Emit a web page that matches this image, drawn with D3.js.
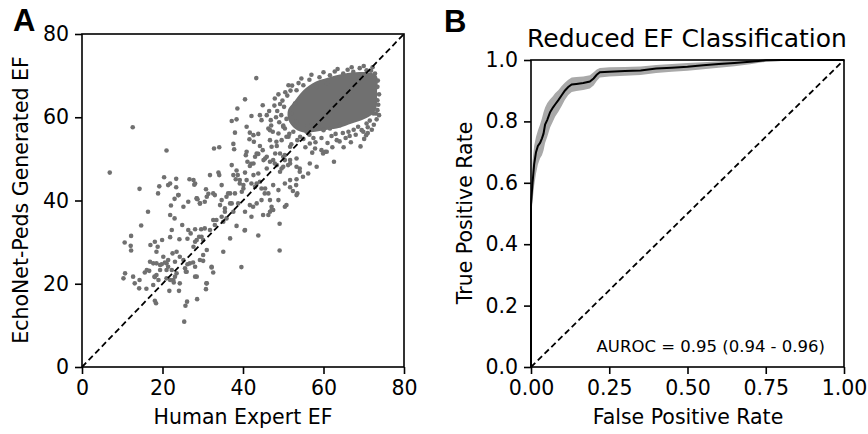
<!DOCTYPE html>
<html>
<head>
<meta charset="utf-8">
<script src="https://cdn.jsdelivr.net/npm/d3@7"></script>
<style>
  body { margin: 0; background: #fff; }
  .tick text { font-family: "DejaVu Sans", sans-serif; font-size: 20.5px; fill: #000; }
  .tick line { stroke: #000; stroke-width: 1.6; }
</style>
</head>
<body>
<div id="fig"></div>
<script>
// panel A: human expert EF vs model EF
var scatterPts = [
  [6.9,46.7],[12.6,57.6],[21.0,52.0],[43.3,69.4],[14.3,42.8],[16.4,37.3],[14.7,34.0],[10.6,29.9],[12.2,31.5],[12.2,28.0],
  [12.1,29.1],[10.3,21.3],[10.7,22.5],[12.7,21.7],[13.1,20.1],[14.3,20.9],[14.2,18.9],[16.0,18.8],[15.6,22.7],[16.7,23.1],
  [18.1,15.9],[18.4,15.3],[25.4,10.9],[25.7,14.7],[26.1,15.7],[28.6,16.3],[30.9,20.1],[30.8,18.7],[39.6,24.0],[49.1,28.0],
  [43.8,31.6],[49.1,34.4],[40.4,32.8],[50.4,38.5],[47.5,37.7],[53.3,41.3],[52.4,42.3],[62.6,49.3],[70.1,54.8],[70.6,55.7],
  [73.0,60.9],[20.4,45.6],[23.4,45.2],[19.2,43.4],[21.4,43.7],[23.4,43.2],[26.7,45.1],[27.9,43.8],[24.0,41.3],[23.0,40.4],
  [22.1,38.8],[28.5,40.5],[29.3,39.3],[30.8,42.7],[31.4,41.6],[23.0,35.7],[24.9,34.1],[26.4,32.9],[22.3,32.9],[27.0,32.1],
  [28.1,33.1],[29.6,33.1],[29.1,31.3],[30.1,30.5],[28.1,30.1],[26.2,30.8],[24.2,30.7],[21.9,31.2],[19.9,30.5],[18.1,30.1],
  [17.0,29.3],[18.8,28.9],[18.5,27.7],[20.2,26.5],[21.4,25.7],[22.5,27.3],[23.5,27.7],[24.3,26.5],[25.2,25.7],[23.1,25.3],
  [21.0,24.9],[19.4,24.5],[17.7,24.9],[16.9,25.3],[16.1,23.3],[18.1,21.6],[19.0,20.9],[21.0,23.3],[22.3,23.3],[23.5,22.5],
  [25.6,23.7],[26.0,22.9],[26.8,24.9],[28.1,24.1],[29.3,25.7],[31.0,28.1],[30.1,26.9],[28.1,21.7],[24.3,20.1],[22.7,20.9],
  [17.7,19.7],[18.0,21.7],[18.5,22.1],[19.4,23.3],[19.8,24.7],[18.5,24.9],[20.6,25.1],[21.4,24.1],[21.0,21.3],[21.9,20.9],
  [23.1,21.7],[22.8,20.3],[21.7,18.3],[24.1,18.3],[25.8,22.9],[26.2,24.7],[27.6,25.1],[28.5,21.7],[31.0,20.1],[32.6,22.7],
  [32.2,23.9],[37.2,48.5],[33.9,46.7],[31.8,46.1],[40.7,50.9],[41.1,49.3],[42.0,48.8],[43.0,50.5],[43.8,51.2],[45.5,50.1],
  [46.7,49.3],[48.0,51.3],[48.4,48.5],[50.4,50.9],[51.7,49.7],[53.3,50.1],[54.1,47.7],[51.2,48.5],[49.6,47.7],[49.2,46.9],
  [45.9,47.7],[43.8,46.5],[42.6,46.1],[38.4,47.2],[38.7,46.1],[38.2,45.1],[39.2,44.1],[40.1,43.7],[40.9,44.9],[42.1,44.1],
  [43.0,43.3],[44.2,44.5],[45.5,42.9],[46.3,41.7],[47.5,43.7],[48.8,42.5],[50.4,44.1],[51.7,44.9],[53.3,45.1],[53.2,43.7],
  [51.7,43.2],[53.5,41.7],[50.8,38.9],[48.8,40.1],[47.1,38.5],[46.7,37.3],[44.6,40.1],[43.4,39.3],[41.7,38.9],[42.1,36.1],
  [39.7,42.1],[38.0,41.7],[36.8,41.7],[35.9,40.9],[34.7,40.1],[34.3,38.9],[35.5,38.1],[37.2,39.3],[37.6,37.3],[35.9,35.7],
  [35.1,34.9],[33.4,35.3],[33.0,34.1],[31.8,32.9],[30.5,33.3],[29.7,31.3],[28.5,30.5],[27.7,28.9],[30.5,39.7],[28.5,40.5],
  [32.6,41.7],[28.1,44.1],[27.7,44.9],[38.4,33.9],[40.5,32.9],[36.8,30.9],[35.1,27.7],[30.1,25.5],[32.2,24.1],[46.3,36.5],
  [21.9,44.1],[34.1,46.1],[33.0,41.3],[34.7,43.7],[36.3,41.7],[37.6,46.1],[39.2,44.9],[40.1,42.9],[40.5,46.7],[43.4,44.1],
  [44.6,42.9],[45.4,41.7],[46.7,40.1],[47.1,37.7],[45.0,36.5],[42.5,38.5],[40.5,37.3],[38.8,39.3],[36.8,39.3],[35.5,37.3],
  [34.7,36.1],[32.6,35.3],[31.0,40.9],[29.3,39.3],[26.4,39.7],[25.2,38.5],[23.9,41.3],[21.9,36.5],[18.9,41.7],[28.7,40.3],
  [51.3,67.7],[40.5,64.3],[44.9,62.9],[47.9,64.5],[38.6,62.1],[37.2,59.1],[38.4,59.5],[42.1,60.3],[44.2,60.5],[44.6,59.3],
  [45.9,60.5],[46.9,59.3],[32.8,52.5],[34.1,52.8],[37.6,53.6],[37.8,52.3],[38.0,56.3],[40.9,57.7],[41.7,56.3],[42.6,55.7],
  [43.8,56.0],[41.6,54.7],[42.7,54.1],[44.2,53.1],[40.9,51.7],[43.4,51.3],[46.3,57.3],[47.4,56.5],[46.7,54.5],[48.4,53.1],
  [45.9,50.5],[45.1,49.7],[42.6,48.9],[41.7,48.3],[49.2,51.3],[50.4,49.7],[47.9,48.9],[50.0,48.1],[51.7,48.9],[49.6,54.5],
  [51.3,55.3],[50.4,57.3],[44.9,52.1],[47.1,52.9],[48.3,54.1],[48.8,56.1],[46.7,56.9],[50.0,57.7],[50.8,55.3],[51.7,52.9],
  [50.0,50.5],[47.5,49.7],[53.3,48.1],[54.1,46.9],[54.9,45.7],[56.2,46.5],[56.6,48.9],[58.3,48.1],[59.9,51.3],[60.8,51.7],
  [69.9,56.5],[53.3,66.5],[55.0,67.7],[52.9,63.3],[52.1,60.9],[53.3,58.9],[52.5,56.5],[54.2,55.3],[55.8,56.5],[56.6,53.7],
  [57.9,52.5],[59.5,52.1],[60.4,51.7],[63.3,54.5],[66.2,56.5],[68.6,57.7],[69.5,56.9],[70.7,58.5],[72.4,60.9],[60.0,56.9],
  [61.6,57.3],[58.7,57.7],[64.1,58.1],[60.8,68.1],[58.3,67.3],[64.9,70.5],[70.7,71.3],[61.6,70.1],[67.4,70.9],[72.8,70.5],
  [73.4,67.3],[73.4,64.1],[73.4,61.7],[49.5,60.5],[50.2,62.5],[49.8,64.0],[51.0,65.2],[52.2,67.6],[56.5,69.0],[59.0,69.6],
  [62.8,71.0],[66.0,71.4],[69.0,71.8],[71.8,71.2],[49.0,58.8],[50.8,59.6],[55.0,54.8],[57.5,55.0],[62.0,55.5],[64.8,56.2],
  [67.5,57.0],[71.5,59.2],[73.6,63.0],[73.5,68.8],[65.5,55.0],[68.0,55.8],[71.0,57.6],[72.5,58.2],[58.0,54.0],[61.0,53.8],
  [48.5,61.5],[49.2,63.2],[50.5,66.0],[53.8,68.2],[57.0,70.2],[60.0,70.8],[63.5,71.6],[67.0,72.0],[70.0,72.3],[72.2,72.0],
  [73.8,65.5],[73.8,60.5],[72.0,57.0],[66.5,55.5],[63.0,56.0],[59.5,55.0],[56.5,55.8],[53.5,54.5],[51.5,56.0],[50.0,58.0],
  [48.2,60.0],[47.8,62.8],[48.8,65.5],[46.5,61.5],[47.0,58.0],[52.0,53.5],[55.5,52.8],[64.0,54.2],[66.8,54.0],[69.2,53.0],
  [54.5,69.3],[51.8,66.4],[56.0,58.0],[71.0,56.2],[73.2,59.5],[62.2,52.8],[57.2,51.5],[65.0,52.8]
];

// the dense part of the cloud, where the dots merge into one blot
var clusterCore = [
  [52.5,63.5],[55,66.5],[58,68.5],[61,69.5],[64,70.3],[68,70.8],[71,70.8],[73.2,70],[73.3,66],[73.2,62.5],
  [72.5,61],[70,59.5],[67,58.5],[64,57.5],[61,57],[58,56.5],[55.5,56.3],[53,57.2],[51.3,59.3],[51.2,61.8]
];
var efTicks = [0, 20, 40, 60, 80];

// panel B: ROC curve with its confidence band
var fpr     = [0, 0, 0.005, 0.01, 0.016, 0.022, 0.029, 0.035, 0.04, 0.045, 0.052, 0.061, 0.07, 0.077, 0.088, 0.098, 0.108, 0.119, 0.13, 0.145, 0.167, 0.188, 0.2, 0.21, 0.22, 0.25, 0.3, 0.35, 0.4, 0.45, 0.5, 0.55, 0.6, 0.65, 0.7, 0.75, 0.8, 0.9, 1.0];
var tpr     = [0, 0.53, 0.60, 0.66, 0.70, 0.72, 0.73, 0.745, 0.76, 0.79, 0.805, 0.83, 0.845, 0.855, 0.87, 0.885, 0.90, 0.912, 0.92, 0.922, 0.925, 0.93, 0.94, 0.952, 0.96, 0.962, 0.964, 0.966, 0.972, 0.975, 0.978, 0.983, 0.987, 0.99, 0.994, 0.999, 1.0, 1.0, 1.0];
var tprHigh = [0, 0.57, 0.67, 0.72, 0.75, 0.77, 0.79, 0.81, 0.83, 0.845, 0.86, 0.872, 0.882, 0.892, 0.902, 0.915, 0.926, 0.936, 0.943, 0.945, 0.946, 0.95, 0.96, 0.969, 0.974, 0.976, 0.977, 0.979, 0.984, 0.987, 0.99, 0.993, 0.996, 0.998, 1.0, 1.0, 1.0, 1.0, 1.0];
var tprLow  = [0, 0.49, 0.54, 0.59, 0.63, 0.66, 0.68, 0.69, 0.705, 0.73, 0.75, 0.78, 0.80, 0.815, 0.832, 0.85, 0.87, 0.886, 0.896, 0.899, 0.902, 0.907, 0.917, 0.932, 0.943, 0.946, 0.949, 0.951, 0.958, 0.962, 0.965, 0.97, 0.975, 0.98, 0.986, 0.994, 0.997, 1.0, 1.0];
var fprTicks = [0, 0.25, 0.5, 0.75, 1.0];
var tprTicks = [0, 0.2, 0.4, 0.6, 0.8, 1.0];

var dotColor = "#707070";
var font = "DejaVu Sans, sans-serif";

var svg = d3.select("#fig")
  .append("svg")
  .attr("width", 868)
  .attr("height", 434);

// ---------- panel A ----------
var xA = d3.scaleLinear().domain([0, 80]).range([82, 404]);
var yA = d3.scaleLinear().domain([0, 80]).range([367, 34]);

var gA = svg.append("g");

gA.append("path")
  .datum(clusterCore)
  .attr("d", d3.line().x(function(d) { return xA(d[0]); }).y(function(d) { return yA(d[1]); }).curve(d3.curveCatmullRomClosed))
  .attr("fill", dotColor);

gA.selectAll(".dot")
  .data(scatterPts)
  .enter().append("circle")
  .attr("class", "dot")
  .attr("cx", function(d) { return xA(d[0]); })
  .attr("cy", function(d) { return yA(d[1]); })
  .attr("r", 2.3)
  .attr("fill", dotColor);

gA.append("line")
  .attr("x1", xA(0)).attr("y1", yA(0))
  .attr("x2", xA(80)).attr("y2", yA(80))
  .attr("stroke", "#000")
  .attr("stroke-width", 1.8)
  .attr("stroke-dasharray", "6,3.5");

gA.append("g")
  .attr("transform", "translate(0,367)")
  .call(d3.axisBottom(xA).tickValues(efTicks).tickSize(7).tickPadding(6))
  .call(function(g) { g.select(".domain").remove(); });

gA.append("g")
  .attr("transform", "translate(82,0)")
  .call(d3.axisLeft(yA).tickValues(efTicks).tickSize(7).tickPadding(6))
  .call(function(g) { g.select(".domain").remove(); });

gA.append("rect")
  .attr("x", 82).attr("y", 34)
  .attr("width", 322).attr("height", 333)
  .attr("fill", "none").attr("stroke", "#000").attr("stroke-width", 1.6);

gA.append("text")
  .attr("x", 243).attr("y", 424)
  .attr("text-anchor", "middle")
  .style("font-family", font).style("font-size", "20.5px")
  .text("Human Expert EF");

gA.append("text")
  .attr("transform", "translate(28,200) rotate(-90)")
  .attr("text-anchor", "middle")
  .style("font-family", font).style("font-size", "20.5px")
  .text("EchoNet-Peds Generated EF");

gA.append("text")
  .attr("x", 13).attr("y", 31)
  .style("font-family", "Liberation Sans, Arial, sans-serif").style("font-size", "31px").style("font-weight", "bold")
  .text("A");

// ---------- panel B ----------
var xB = d3.scaleLinear().domain([0, 1]).range([531, 844]);
var yB = d3.scaleLinear().domain([0, 1]).range([367, 60]);

var gB = svg.append("g");

var band = d3.area()
  .x(function(d, i) { return xB(fpr[i]); })
  .y0(function(d, i) { return yB(tprLow[i]); })
  .y1(function(d, i) { return yB(tprHigh[i]); });

gB.append("path")
  .datum(fpr)
  .attr("d", band)
  .attr("fill", "#a9a9a9");

gB.append("line")
  .attr("x1", xB(0)).attr("y1", yB(0))
  .attr("x2", xB(1)).attr("y2", yB(1))
  .attr("stroke", "#000")
  .attr("stroke-width", 1.8)
  .attr("stroke-dasharray", "6,3.5");

gB.append("path")
  .datum(fpr)
  .attr("d", d3.line().x(function(d, i) { return xB(fpr[i]); }).y(function(d, i) { return yB(tpr[i]); }))
  .attr("fill", "none")
  .attr("stroke", "#000")
  .attr("stroke-width", 2);

gB.append("g")
  .attr("transform", "translate(0,367)")
  .call(d3.axisBottom(xB).tickValues(fprTicks).tickFormat(d3.format(".2f")).tickSize(7).tickPadding(6))
  .call(function(g) { g.select(".domain").remove(); });

gB.append("g")
  .attr("transform", "translate(531,0)")
  .call(d3.axisLeft(yB).tickValues(tprTicks).tickFormat(d3.format(".1f")).tickSize(7).tickPadding(6))
  .call(function(g) { g.select(".domain").remove(); });

gB.append("rect")
  .attr("x", 531).attr("y", 60)
  .attr("width", 313).attr("height", 307)
  .attr("fill", "none").attr("stroke", "#000").attr("stroke-width", 1.6);

gB.append("text")
  .attr("x", 687).attr("y", 47)
  .attr("text-anchor", "middle")
  .style("font-family", font).style("font-size", "25px")
  .text("Reduced EF Classification");

gB.append("text")
  .attr("x", 688).attr("y", 424)
  .attr("text-anchor", "middle")
  .style("font-family", font).style("font-size", "20.5px")
  .text("False Positive Rate");

gB.append("text")
  .attr("transform", "translate(472,213) rotate(-90)")
  .attr("text-anchor", "middle")
  .style("font-family", font).style("font-size", "20.5px")
  .text("True Positive Rate");

gB.append("text")
  .attr("x", 825).attr("y", 352)
  .attr("text-anchor", "end")
  .style("font-family", font).style("font-size", "16.5px")
  .text("AUROC = 0.95 (0.94 - 0.96)");

gB.append("text")
  .attr("x", 444).attr("y", 32)
  .style("font-family", "Liberation Sans, Arial, sans-serif").style("font-size", "31px").style("font-weight", "bold")
  .text("B");
</script>
</body>
</html>
